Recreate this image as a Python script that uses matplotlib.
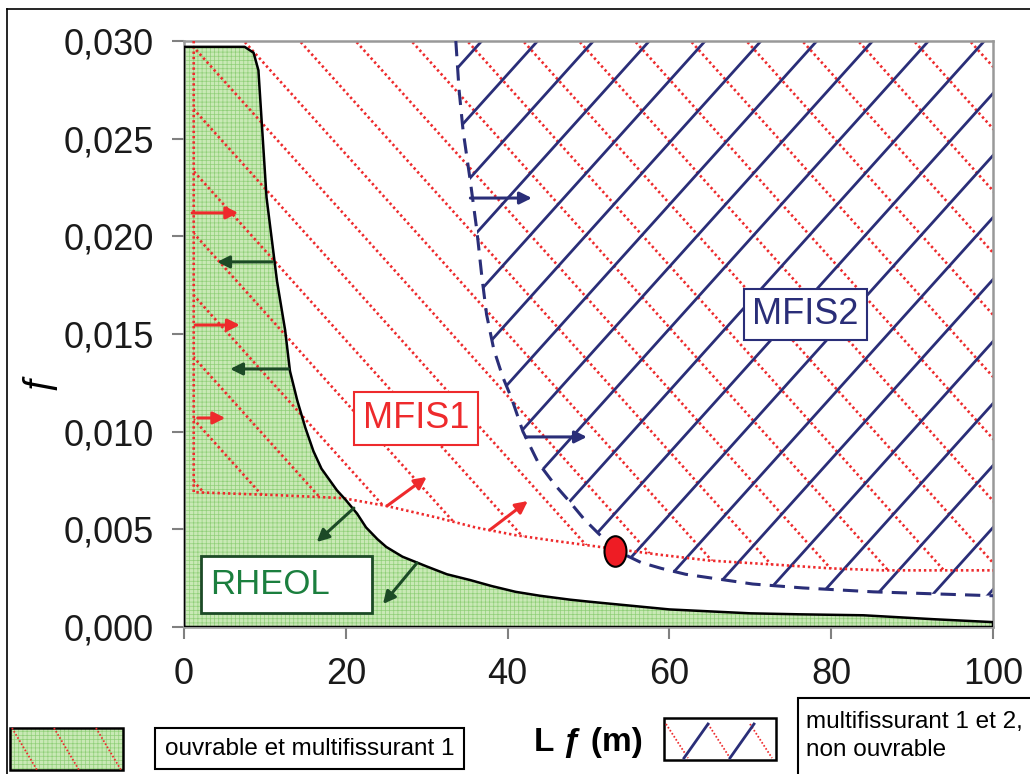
import numpy as np
import matplotlib
matplotlib.use('Agg')
import matplotlib.pyplot as plt
from matplotlib.patches import Polygon, Rectangle
from matplotlib.collections import LineCollection
from matplotlib.lines import Line2D
from matplotlib.path import Path
from matplotlib.transforms import Affine2D
from matplotlib.ticker import FuncFormatter

plt.rcParams['font.family'] = ['Liberation Sans', 'DejaVu Sans']
plt.rcParams['hatch.linewidth'] = 0.5

# RHEOL limit (black curve), workable zone below it
rheol_L = [0, 0, 7.5, 8.6, 9.2, 9.6, 10.2, 11.5, 12.5, 13.1, 14.0, 15.0, 16.0, 17.0, 18.9,
           20.0, 21.4, 22.5, 23.9, 25.0, 27.0, 28.8, 30.0, 32.5, 35.4, 38.0, 41.0, 44.0,
           47.7, 50.0, 55.0, 60.0, 70.0, 76.0, 84.0, 92.6, 100]
rheol_f = [0, 0.0297, 0.0297, 0.0294, 0.0285, 0.0259, 0.0220, 0.0177, 0.0152, 0.0131,
           0.0116, 0.0102, 0.0090, 0.0081, 0.0070, 0.0065, 0.0058, 0.0051, 0.0045, 0.0041,
           0.0036, 0.0033, 0.0031, 0.0027, 0.0024, 0.0021, 0.0018, 0.0016, 0.0014, 0.0013,
           0.0011, 0.0009, 0.0007, 0.00065, 0.0006, 0.0004, 0.00025]

# MFIS1 limit (red dotted)
mfis1_L = [1.2, 1.2, 11.5, 19.6, 25.0, 31.3, 36.0, 41.0, 46.0, 51.4, 58.8, 65.0, 72.8,
           80.0, 86.4, 100]
mfis1_f = [0.030, 0.0069, 0.00675, 0.0066, 0.0062, 0.0056, 0.0051, 0.0047, 0.0044,
           0.0041, 0.0037, 0.0034, 0.0032, 0.0030, 0.0029, 0.0029]

# MFIS2 limit (navy dashed)
mfis2_L = [33.6, 34.0, 34.5, 35.4, 36.2, 36.8, 37.4, 38.3, 39.4, 40.5, 41.9, 43.8, 45.8,
           47.7, 49.5, 51.2, 53.0, 54.5, 56.5, 59.0, 62.0, 65.3, 70.3, 76.5, 85.2, 92.5, 100]
mfis2_f = [0.030, 0.0275, 0.0254, 0.0228, 0.0203, 0.0180, 0.0160, 0.0142, 0.0128, 0.0117,
           0.0100, 0.0084, 0.0073, 0.0064, 0.0055, 0.0048, 0.0041, 0.0037, 0.0033, 0.0030,
           0.0027, 0.0025, 0.0022, 0.0020, 0.0018, 0.0017, 0.0016]

point_L, point_f = 53.3, 0.0039

# arrows (tail, head)
red_arrows = [((1.0, 0.0212), (6.7, 0.0212)), ((1.4, 0.01546), (6.9, 0.01546)),
              ((1.7, 0.0107), (5.1, 0.0107)), ((25.1, 0.0062), (30.0, 0.00768)),
              ((37.8, 0.00497), (42.5, 0.00645))]
green_arrows = [((10.9, 0.01869), (4.1, 0.01869)), ((12.9, 0.01321), (5.7, 0.01321)),
                ((21.0, 0.00609), (16.4, 0.00435)), ((28.8, 0.00328), (24.6, 0.00118))]
navy_arrows = [((35.4, 0.02196), (43.0, 0.02196)), ((42.2, 0.00973), (49.8, 0.00973))]

xticks = [0, 20, 40, 60, 80, 100]
yticks = [0.000, 0.005, 0.010, 0.015, 0.020, 0.025, 0.030]

RED = '#ee2a2c'
NAVY = '#2a2e78'
DKGREEN = '#1c4a26'
TXTGREEN = '#1b7f3e'
FILL = '#c9e9b6'
GRID = '#8fcf78'
DOTS = (0, (0.9, 1.1))

fig = plt.figure(figsize=(10.3, 7.74), dpi=100)
ax = fig.add_axes([184/1030, 1-627/774, 809/1030, 586/774])
ax.set_xlim(0, 100)
ax.set_ylim(0, 0.030)


def hatch_lines(xs, ys, angle, step, through, **kw):
    bb = ax.get_window_extent()
    W, H = bb.width, bb.height
    clip = Polygon(np.column_stack([xs, ys]), closed=True, transform=ax.transData)
    th = np.radians(angle)
    d = np.array([np.cos(th), np.sin(th)])
    n = np.array([-np.sin(th), np.cos(th)])
    p0 = np.array([through[0]*W, through[1]*H])
    L = W + H
    segs = []
    for k in range(-50, 51):
        c = p0 + k*step*n
        a = c - L*d
        b = c + L*d
        segs.append([(a[0]/W, a[1]/H), (b[0]/W, b[1]/H)])
    lc = LineCollection(segs, transform=ax.transAxes, **kw)
    ax.add_collection(lc, autolim=False)
    lc.set_clip_path(clip)


# green zone
zone_L = rheol_L + [100]
zone_f = rheol_f + [0]
ax.fill(zone_L, zone_f, color=FILL, lw=0, zorder=1)
ax.fill(zone_L, zone_f, facecolor='none', edgecolor=GRID, hatch='++++', lw=0, zorder=1.1)

# MFIS1 hatching (red dotted, down-right)
hatch_lines(mfis1_L + [100], mfis1_f + [0.030], -48, 41.5, (395/809, 1.0),
            colors=RED, linewidths=1.9, linestyles=[DOTS], zorder=2)
# MFIS2 hatching (navy, up-right)
hatch_lines(mfis2_L + [100], mfis2_f + [0.030], 48, 41.5, (350/809, 1-4/586),
            colors=NAVY, linewidths=2.0, zorder=2.2)

ax.plot(mfis1_L, mfis1_f, color=RED, lw=1.9, ls=DOTS, zorder=3)
ax.plot(mfis2_L, mfis2_f, color=NAVY, lw=2.2, ls=(0, (5, 3)), zorder=3)
ax.plot(rheol_L + [100, 0], rheol_f + [0, 0], color='black', lw=1.8, zorder=4)

for arrs, col in [(red_arrows, RED), (green_arrows, DKGREEN), (navy_arrows, NAVY)]:
    for tail, head in arrs:
        ax.annotate('', xy=head, xytext=tail,
                    arrowprops=dict(arrowstyle='-|>', color=col, lw=2.2, mutation_scale=18,
                                    shrinkA=0, shrinkB=0), zorder=5)

ell = Path.unit_circle().transformed(Affine2D().scale(0.72, 1.0))
ax.plot([point_L], [point_f], marker=ell, ms=22, mfc='#ee1c24', mec='black', mew=1.5,
        ls='none', zorder=6)

ax.text(28.7, 0.01065, 'MFIS1', color=RED, fontsize=26, ha='center', va='center', zorder=7,
        bbox=dict(boxstyle='square,pad=0.25', fc='white', ec=RED, lw=1.5))
ax.text(76.8, 0.0160, 'MFIS2', color=NAVY, fontsize=26, ha='center', va='center', zorder=7,
        bbox=dict(boxstyle='square,pad=0.22', fc='white', ec=NAVY, lw=1.5))
ax.add_patch(Rectangle((2.1, 0.00072), 21.1, 0.00291, fc='white', ec=DKGREEN, lw=2, zorder=6.5))
ax.text(3.2, 0.00218, 'RHEOL', color=TXTGREEN, fontsize=25, ha='left', va='center', zorder=7)

ax.set_xticks(xticks)
ax.set_yticks(yticks)
ax.yaxis.set_major_formatter(FuncFormatter(lambda v, p: f'{v:.3f}'.replace('.', ',')))
ax.tick_params(length=8.6, width=1.5, color='#808080', labelsize=26, pad=13,
               labelcolor='#1a1a1a', direction='out')
for s in ax.spines.values():
    s.set_color('#999999')
    s.set_linewidth(1.8)


def fx(px):
    return px / 1030


def fy(py):
    return 1 - py / 774


# bottom legend elements
fig.text(fx(588), fy(743), 'L ƒ (m)', fontsize=24, fontweight='bold', ha='center', va='center')
fig.text(fx(36), fy(380), 'ƒ', fontsize=27, rotation=90, ha='center', va='center')

x0, y0, x1, y1 = 10, 728, 123, 770
fig.add_artist(Rectangle((fx(x0), fy(y1)), fx(x1-x0), (y1-y0)/774, transform=fig.transFigure,
                         fc=FILL, ec='none'))
fig.add_artist(Rectangle((fx(x0), fy(y1)), fx(x1-x0), (y1-y0)/774, transform=fig.transFigure,
                         fc='none', ec=GRID, hatch='++++', lw=0))
for k in range(3):
    xa = x0 + 2 + k*42
    fig.add_artist(Line2D([fx(xa), fx(xa+25)], [fy(y0), fy(y1)], transform=fig.transFigure,
                          color=RED, lw=1.3, ls=DOTS))
fig.add_artist(Rectangle((fx(x0), fy(y1)), fx(x1-x0), (y1-y0)/774, transform=fig.transFigure,
                         fc='none', ec='black', lw=1.8))

fig.add_artist(Rectangle((fx(155), fy(769)), fx(309), 41/774, transform=fig.transFigure,
                         fc='white', ec='black', lw=1.5))
fig.text(fx(310), fy(749), 'ouvrable et multifissurant 1', fontsize=17.5, ha='center', va='center')

x0, y0, x1, y1 = 664, 718, 776, 760
fig.add_artist(Rectangle((fx(x0), fy(y1)), fx(x1-x0), (y1-y0)/774, transform=fig.transFigure,
                         fc='white', ec='black', lw=1.8))
for k in range(3):
    xa = x0 + 2 + k*42
    fig.add_artist(Line2D([fx(xa), fx(xa+22)], [fy(y0+6), fy(y1-2)], transform=fig.transFigure,
                          color=RED, lw=1.3, ls=DOTS))
for k in range(2):
    xa = x0 + 20 + k*46
    fig.add_artist(Line2D([fx(xa), fx(xa+24)], [fy(y1-2), fy(y0+6)], transform=fig.transFigure,
                          color=NAVY, lw=2))

fig.add_artist(Rectangle((fx(798), fy(780)), fx(240), 82/774, transform=fig.transFigure,
                         fc='white', ec='black', lw=1.5))
fig.text(fx(806), fy(736), 'multifissurant 1 et 2,\nnon ouvrable', fontsize=17.5,
         ha='left', va='center', linespacing=1.35)

# outer frame
fig.add_artist(Line2D([fx(7), fx(7)], [fy(9), 0], transform=fig.transFigure, color='black', lw=1.2))
fig.add_artist(Line2D([fx(7), 1], [fy(9), fy(9)], transform=fig.transFigure, color='black', lw=1.2))

fig.savefig('out.png', dpi=100)
